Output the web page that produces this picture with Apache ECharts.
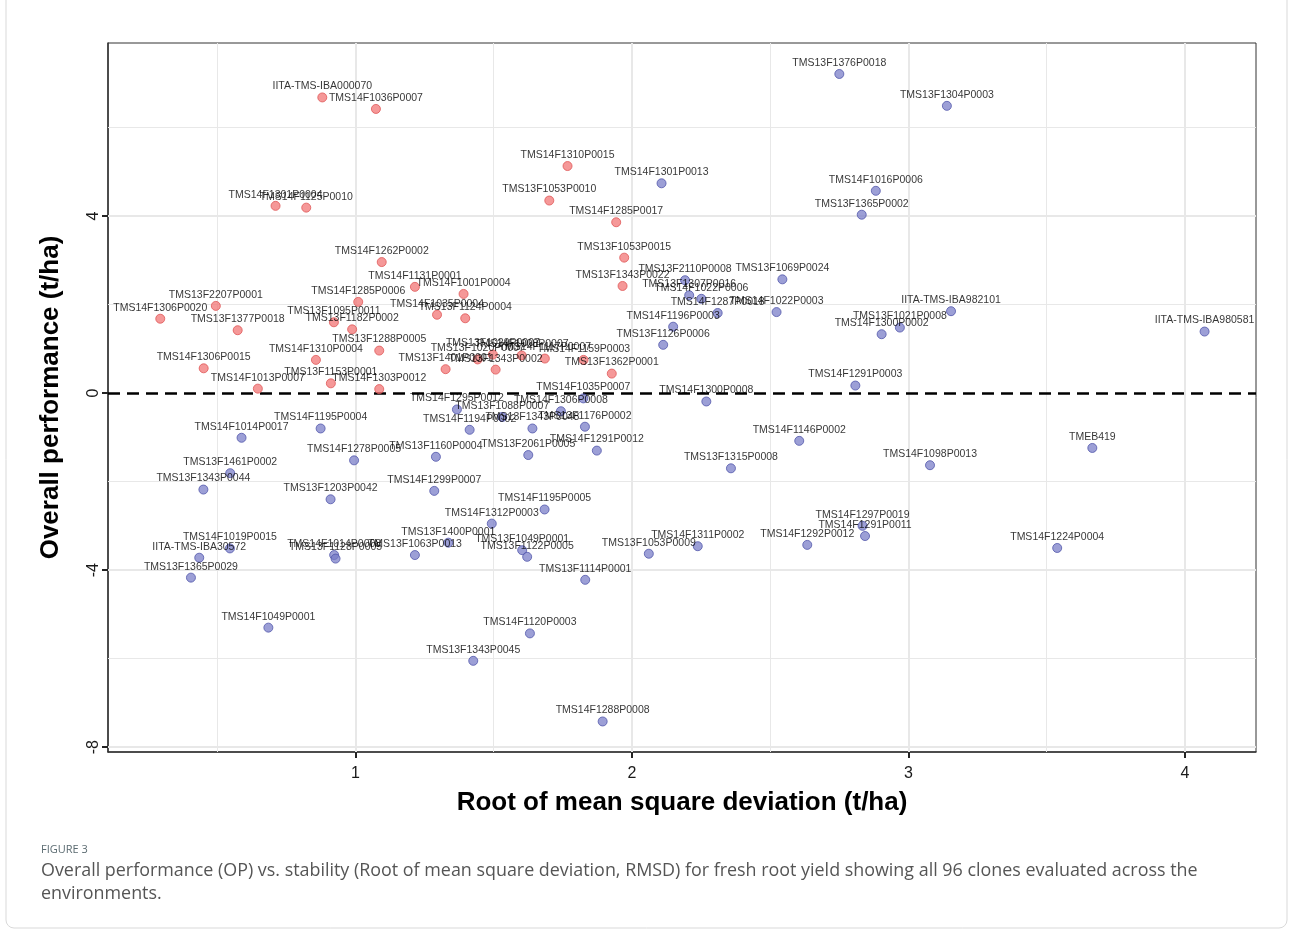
<!DOCTYPE html>
<html>
<head>
<meta charset="utf-8">
<script src="https://cdn.jsdelivr.net/npm/echarts@6/dist/echarts.min.js"></script>
<style>
  html, body { margin: 0; padding: 0; background: #fff; }
  #chart { width: 1293px; height: 933px; }
</style>
</head>
<body>
<div id="chart"></div>
<script>
// Clones with high performance and low deviation (red group)
const redClones = [
  'IITA-TMS-IBA000070', 'TMS14F1036P0007', 'TMS14F1301P0004', 'TMS14F1125P0010',
  'TMS14F1310P0015', 'TMS13F1053P0010', 'TMS14F1285P0017', 'TMS13F1053P0015',
  'TMS13F1343P0022', 'TMS14F1262P0002', 'TMS14F1131P0001', 'TMS14F1001P0004',
  'TMS14F1285P0006', 'TMS13F2207P0001', 'TMS14F1306P0020', 'TMS14F1035P0004',
  'TMS13F1124P0004', 'TMS13F1377P0018', 'TMS13F1095P0011', 'TMS13F1182P0002',
  'TMS13F1288P0005', 'TMS14F1310P0004', 'TMS14F1306P0015', 'TMS13F1153P0001',
  'TMS14F1013P0007', 'TMS14F1303P0012', 'TMS13F1401P0001', 'TMS13F1020P0007',
  'TMS13F1029P0007', 'TMS13F1343P0002', 'TMS14F1008P0007', 'TMS14F1117P0007',
  'TMS14F1159P0003', 'TMS13F1362P0001'
];
const redRmsd = [
  0.880, 1.074, 0.711, 0.822,
  1.767, 1.701, 1.943, 1.972,
  1.966, 1.095, 1.215, 1.391,
  1.010, 0.495, 0.294, 1.295,
  1.397, 0.574, 0.922, 0.988,
  1.086, 0.857, 0.451, 0.911,
  0.647, 1.086, 1.326, 1.442,
  1.497, 1.507, 1.601, 1.685,
  1.825, 1.927
];
const redOp = [
  6.68, 6.42, 4.23, 4.19,
  5.13, 4.35, 3.86, 3.06,
  2.42, 2.96, 2.40, 2.24,
  2.06, 1.97, 1.68, 1.77,
  1.69, 1.42, 1.60, 1.44,
  0.96, 0.75, 0.56, 0.22,
  0.10, 0.09, 0.54, 0.76,
  0.87, 0.53, 0.85, 0.78,
  0.75, 0.44
];

// All remaining clones (blue group)
const blueClones = [
  'TMS13F1376P0018', 'TMS13F1304P0003', 'TMS14F1301P0013', 'TMS14F1016P0006',
  'TMS13F1365P0002', 'TMS13F2110P0008', 'TMS13F1069P0024', 'TMS13F1307P0016',
  'TMS14F1022P0006', 'TMS14F1287P0018', 'TMS14F1022P0003', 'TMS14F1196P0003',
  'TMS13F1126P0006', 'IITA-TMS-IBA982101', 'TMS13F1021P0008', 'TMS14F1300P0002',
  'IITA-TMS-IBA980581', 'TMS14F1291P0003', 'TMS14F1035P0007', 'TMS14F1300P0008',
  'TMS14F1295P0012', 'TMS13F1088P0007', 'TMS14F1306P0008', 'TMS14F1194P0002',
  'TMS13F1343P0048', 'TMS13F1176P0002', 'TMS14F1195P0004', 'TMS14F1014P0017',
  'TMS14F1278P0005', 'TMS13F1160P0004', 'TMS13F2061P0005', 'TMS14F1291P0012',
  'TMS14F1146P0002', 'TMS13F1315P0008', 'TMEB419', 'TMS14F1098P0013',
  'TMS13F1461P0002', 'TMS13F1343P0044', 'TMS13F1203P0042', 'TMS14F1299P0007',
  'TMS14F1195P0005', 'TMS14F1312P0003', 'TMS14F1297P0019', 'TMS14F1291P0011',
  'TMS14F1224P0004', 'TMS14F1019P0015', 'IITA-TMS-IBA30572', 'TMS14F1014P0008',
  'TMS13F1128P0005', 'TMS13F1063P0013', 'TMS13F1400P0001', 'TMS13F1049P0001',
  'TMS13F1122P0005', 'TMS13F1053P0009', 'TMS14F1311P0002', 'TMS14F1292P0012',
  'TMS13F1365P0029', 'TMS13F1114P0001', 'TMS14F1049P0001', 'TMS14F1120P0003',
  'TMS13F1343P0045', 'TMS14F1288P0008'
];
const blueRmsd = [
  2.750, 3.139, 2.107, 2.882,
  2.831, 2.192, 2.544, 2.207,
  2.251, 2.310, 2.523, 2.149,
  2.113, 3.154, 2.969, 2.903,
  4.071, 2.808, 1.824, 2.269,
  1.367, 1.531, 1.743, 1.413,
  1.640, 1.830, 0.874, 0.588,
  0.995, 1.291, 1.625, 1.873,
  2.605, 2.358, 3.665, 3.078,
  0.547, 0.450, 0.910, 1.285,
  1.684, 1.493, 2.834, 2.843,
  3.538, 0.546, 0.435, 0.923,
  0.928, 1.215, 1.336, 1.603,
  1.621, 2.061, 2.238, 2.634,
  0.405, 1.831, 0.685, 1.631,
  1.426, 1.894
];
const blueOp = [
  7.21, 6.49, 4.74, 4.57,
  4.03, 2.55, 2.57, 2.21,
  2.13, 1.81, 1.83, 1.50,
  1.09, 1.85, 1.48, 1.33,
  1.39, 0.17, -0.12, -0.19,
  -0.37, -0.54, -0.41, -0.83,
  -0.80, -0.76, -0.80, -1.01,
  -1.52, -1.44, -1.40, -1.30,
  -1.08, -1.70, -1.24, -1.63,
  -1.81, -2.18, -2.40, -2.21,
  -2.63, -2.95, -3.00, -3.23,
  -3.50, -3.51, -3.72, -3.66,
  -3.74, -3.66, -3.38, -3.55,
  -3.70, -3.63, -3.46, -3.43,
  -4.17, -4.22, -5.30, -5.43,
  -6.05, -7.42
];

// Axis breaks and grid lines
const xBreaks = [1, 2, 3, 4];
const xMinorBreaks = [0.5, 1.5, 2.5, 3.5];
const yBreaks = [-8, -4, 0, 4];
const yMinorBreaks = [-6, -2, 2, 6];

const FONT = '"Liberation Sans", Arial, Helvetica, sans-serif';

function toPoints(names, xs, ys) {
  return names.map((n, i) => ({ name: n, value: [xs[i], ys[i]] }));
}

function pointSeries(name, names, xs, ys, fill, stroke) {
  return {
    name: name,
    type: 'scatter',
    z: 5,
    symbol: 'circle',
    symbolSize: 9,
    data: toPoints(names, xs, ys),
    itemStyle: { color: fill, borderColor: stroke, borderWidth: 1 },
    label: {
      show: true,
      formatter: '{b}',
      position: 'inside',
      offset: [0, -11],
      fontFamily: FONT,
      fontSize: 10.5,
      color: '#000'
    },
    emphasis: { disabled: true }
  };
}

const gridLineData = []
  .concat(xMinorBreaks.map(v => ({ xAxis: v, lineStyle: { width: 1, color: '#e8e8e8', type: 'solid' } })))
  .concat(yMinorBreaks.map(v => ({ yAxis: v, lineStyle: { width: 1, color: '#e8e8e8', type: 'solid' } })))
  .concat(xBreaks.map(v => ({ xAxis: v, lineStyle: { width: 2, color: '#e8e8e8', type: 'solid' } })))
  .concat(yBreaks.filter(v => v !== 0).map(v => ({ yAxis: v, lineStyle: { width: 2, color: '#e8e8e8', type: 'solid' } })));

const chart = echarts.init(document.getElementById('chart'), null, { renderer: 'canvas' });

chart.setOption({
  animation: false,
  backgroundColor: '#fff',
  title: [
    {
      text: 'FIGURE 3',
      left: 41, top: 844, padding: 0,
      textStyle: { fontFamily: '"Open Sans", sans-serif', fontSize: 11, fontWeight: 'normal', color: '#5a6a70' }
    },
    {
      text: 'Overall performance (OP) vs. stability (Root of mean square deviation, RMSD) for fresh root yield showing all 96 clones evaluated across the\nenvironments.',
      left: 41, top: 859, padding: 0,
      textStyle: { fontFamily: '"Open Sans", sans-serif', fontSize: 17.9, fontWeight: 'normal', color: '#555', lineHeight: 23 }
    }
  ],
  graphic: [
    {
      type: 'rect',
      shape: { x: 6, y: -10, width: 1281, height: 938, r: 8 },
      style: { fill: 'none', stroke: '#d9d9d9', lineWidth: 1 },
      silent: true
    }
  ],
  grid: {
    left: 108, right: 37, top: 43, bottom: 181,
    show: true, borderColor: '#333', borderWidth: 1, backgroundColor: '#fff'
  },
  xAxis: {
    type: 'value',
    min: 0.105, max: 4.257,
    name: 'Root of mean square deviation (t/ha)',
    nameLocation: 'middle',
    nameGap: 38,
    nameTextStyle: { fontFamily: FONT, fontSize: 26, fontWeight: 'bold', color: '#000' },
    axisLine: { show: true, onZero: false, lineStyle: { color: '#333', width: 1.5 } },
    axisTick: { show: true, customValues: xBreaks, length: 6, lineStyle: { color: '#222', width: 2 } },
    axisLabel: { customValues: xBreaks, fontFamily: FONT, fontSize: 16, color: '#1a1a1a', margin: 14 },
    splitLine: { show: false }
  },
  yAxis: {
    type: 'value',
    min: -8.11, max: 7.91,
    name: 'Overall performance (t/ha)',
    nameLocation: 'middle',
    nameGap: 44,
    nameTextStyle: { fontFamily: FONT, fontSize: 26, fontWeight: 'bold', color: '#000' },
    axisLine: { show: true, onZero: false, lineStyle: { color: '#333', width: 1.5 } },
    axisTick: { show: true, customValues: yBreaks, length: 6, lineStyle: { color: '#222', width: 2 } },
    axisLabel: { customValues: yBreaks, rotate: 90, fontFamily: FONT, fontSize: 16, color: '#1a1a1a', margin: 6 },
    splitLine: { show: false }
  },
  series: [
    {
      name: 'grid',
      type: 'scatter',
      z: 1,
      data: [],
      silent: true,
      markLine: {
        silent: true,
        symbol: ['none', 'none'],
        label: { show: false },
        animation: false,
        data: gridLineData
      }
    },
    {
      name: 'zero',
      type: 'scatter',
      z: 2,
      data: [],
      silent: true,
      markLine: {
        silent: true,
        symbol: ['none', 'none'],
        label: { show: false },
        animation: false,
        lineStyle: { color: '#000', width: 2.5, type: [12, 7] },
        data: [{ yAxis: 0 }]
      }
    },
    pointSeries('high', redClones, redRmsd, redOp, 'rgba(241,112,112,0.9)', '#e05858'),
    pointSeries('other', blueClones, blueRmsd, blueOp, 'rgba(118,122,198,0.9)', '#5257ab')
  ]
});
</script>
</body>
</html>
